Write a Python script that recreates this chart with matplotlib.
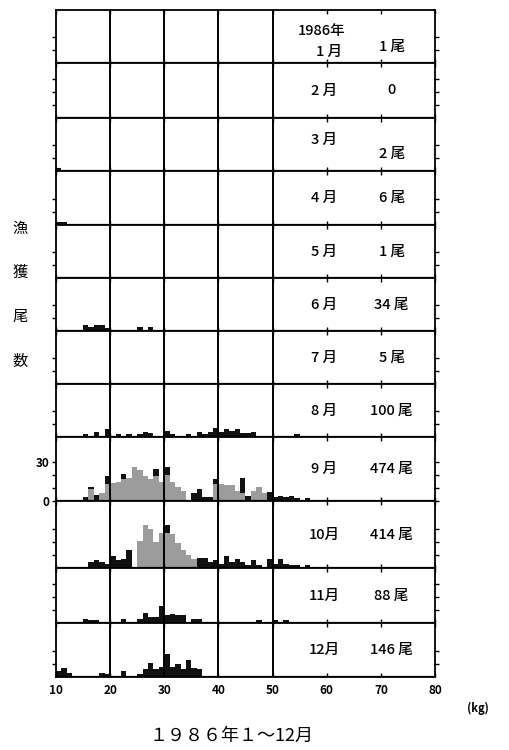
import matplotlib.pyplot as plt
import numpy as np

plt.rcParams['font.family'] = ['Noto Sans CJK JP', 'DejaVu Sans']

# weight classes, 1 kg bins starting at 10 kg
kg = np.arange(10, 80)

months = ['1 月', '2 月', '3 月', '4 月', '5 月', '6 月', '7 月', '8 月',
          '9 月', '10月', '11月', '12月']
totals = ['1 尾', '0', '2 尾', '6 尾', '1 尾', '34 尾', '5 尾', '100 尾',
          '474 尾', '414 尾', '88 尾', '146 尾']

# black bars (counts from 10 kg upward)
jan_black = [0, 0, 1]
feb_black = []
mar_black = [2]
apr_black = [2, 2, 1, 1]
may_black = [0, 0, 0, 0, 0, 0, 0, 0, 0, 0, 0, 1]
jun_black = [0, 0, 1, 0, 0, 5, 3, 5, 5, 2, 1, 1, 0, 1, 1, 3, 0, 3, 0, 0,
             1, 0, 0, 0, 0, 1, 0, 0, 0, 0, 0, 0, 0, 0, 0, 1]
jul_black = [0, 0, 1, 0, 0, 0, 1, 0, 0, 0, 0, 0, 0, 0, 0, 0, 1, 0, 0, 0,
             0, 0, 0, 0, 0, 0, 0, 0, 0, 0, 0, 1, 0, 0, 0, 0, 1]
aug_black = [0, 1, 1, 0, 1, 2, 1, 4, 1, 6, 1, 2, 1, 2, 1, 2, 4, 3, 1, 1,
             5, 2, 1, 1, 2, 1, 4, 2, 4, 7, 4, 6, 5, 6, 3, 3, 4, 1, 1, 0,
             0, 1, 0, 1, 2]
sep_black = [1, 1, 1, 1, 1, 3, 2, 5, 0, 6, 0, 0, 4, 0, 0, 0, 0, 0, 6, 0,
             6, 0, 0, 0, 0, 6, 9, 3, 3, 4, 0, 0, 0, 0, 12, 4, 0, 0, 0, 7,
             3, 4, 3, 4, 2, 1, 2, 1, 1, 0, 1, 0, 1, 0, 0, 1, 0, 0, 1]
sep_grey = [0, 0, 0, 0, 0, 0, 9, 0, 6, 13, 14, 15, 17, 18, 26, 24, 19, 17, 19, 15,
            20, 15, 11, 8, 1, 0, 0, 0, 0, 13, 13, 12, 12, 8, 6, 0, 8, 11, 6]
oct_black = [0, 1, 1, 0, 1, 1, 5, 6, 5, 3, 9, 6, 7, 14, 1, 0, 0, 0, 0, 0,
             6, 0, 0, 0, 0, 0, 8, 8, 5, 6, 3, 9, 5, 7, 5, 2, 6, 2, 1, 7,
             3, 7, 3, 2, 2, 1, 2, 1, 1, 1, 1, 0, 1]
oct_grey = [0, 0, 0, 0, 0, 0, 0, 0, 0, 0, 0, 0, 0, 0, 0, 21, 33, 30, 20, 27,
            27, 26, 19, 14, 10, 7]
nov_black = [0, 0, 0, 1, 0, 3, 2, 2, 0, 0, 1, 0, 3, 1, 0, 3, 8, 5, 5, 13,
             6, 7, 6, 6, 1, 3, 3, 1, 0, 0, 1, 0, 0, 0, 1, 0, 0, 2, 1, 0,
             2, 0, 2]
dec_black = [5, 7, 3, 1, 1, 1, 1, 1, 3, 2, 1, 0, 5, 1, 1, 2, 6, 11, 6, 8,
             18, 8, 10, 6, 13, 7, 6, 0, 0, 1, 1, 1, 0, 1, 0, 1, 0, 0, 1, 0,
             0, 0, 1]

black = [jan_black, feb_black, mar_black, apr_black, may_black, jun_black,
         jul_black, aug_black, sep_black, oct_black, nov_black, dec_black]
grey = [[], [], [], [], [], [], [], [], sep_grey, oct_grey, [], []]


def pad(v):
    out = np.zeros(len(kg))
    out[:len(v)] = v
    return out


# panel edges in pixels from the top of the 509x750 picture
edges = [10, 63, 118, 171, 225, 278, 331, 384, 437, 501, 568, 623, 677]
px_per_fish = 1.3

fig = plt.figure(figsize=(5.09, 7.5), dpi=100)
left = 56 / 509
width = (435 - 56) / 509
lab = dict(ha='center', va='center', fontsize=10.5, fontweight='medium')

for i in range(12):
    top, bot = edges[i], edges[i + 1]
    ax = fig.add_axes([left, 1 - bot / 750, width, (bot - top) / 750])
    g = pad(grey[i])
    b = pad(black[i])
    ax.bar(kg, g, width=1, align='edge', color='#9c9c9c', linewidth=0)
    ax.bar(kg, b, bottom=g, width=1, align='edge', color='#111111', linewidth=0)
    for x in [20, 30, 40, 50]:
        ax.axvline(x, color='black', lw=1.4)
    ax.axhline(0, color='black', lw=1.6)
    ymax = (bot - top) / px_per_fish
    ax.set_xlim(10, 80)
    ax.set_ylim(0, ymax)
    if i == 8:
        ax.set_yticks([0, 10, 20, 30])
        ax.set_yticklabels(['0', '', '', '30'], fontsize=8.5, fontweight='bold')
    else:
        yt = [t for t in range(10, 50, 10) if t < ymax - 12]
        ax.set_yticks(yt)
        ax.set_yticklabels([])
    ax.tick_params(axis='y', direction='out', length=3, width=1, left=True,
                   right=True, pad=2)
    ax.set_xticks(range(10, 81, 10))
    ax.tick_params(axis='x', direction='in', length=3, width=1, top=True,
                   bottom=True)
    if i == 11:
        ax.set_xticklabels([str(t) for t in range(10, 81, 10)], fontsize=8.5,
                           fontweight='bold')
        ax.tick_params(axis='x', pad=5)
    else:
        ax.set_xticklabels([])
    for s in ax.spines.values():
        s.set_linewidth(1.3)

    tr = ax.get_xaxis_transform()
    if i == 0:
        ax.text(59, 0.6, '1986年', transform=tr, **lab)
        ax.text(60.5, 0.21, months[i], transform=tr, **lab)
        ax.text(72, 0.31, totals[i], transform=tr, **lab)
    else:
        my, ty = 0.5, 0.5
        if i == 2:
            my, ty = 0.58, 0.32
        ax.text(59.5, my, months[i], transform=tr, **lab)
        ax.text(72, ty, totals[i], transform=tr, **lab)

for ch, y in zip('漁獲尾数', [228, 272, 316, 361]):
    fig.text(20 / 509, 1 - y / 750, ch, ha='center', va='center', fontsize=11)

fig.text(478 / 509, 1 - 708 / 750, '(kg)', ha='center', va='center',
         fontsize=8, fontweight='bold')
fig.text(232 / 509, 1 - 736 / 750, '１９８６年１～12月', ha='center', va='center',
         fontsize=13)

plt.savefig('out.png', dpi=100)
